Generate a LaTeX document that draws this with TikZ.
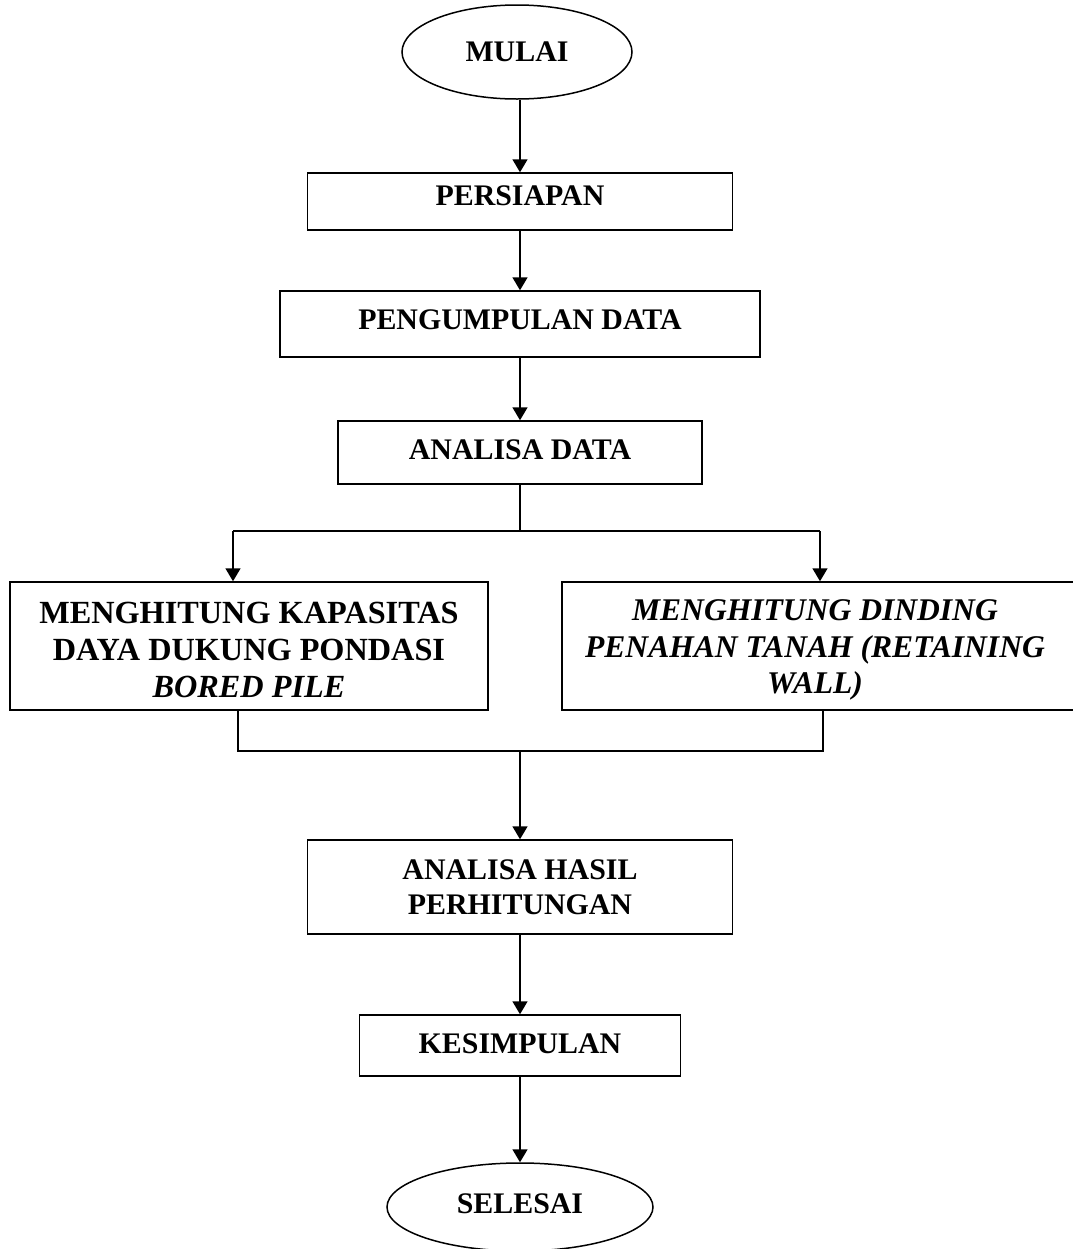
\documentclass[tikz,border=0pt]{standalone}
\usepackage{fontspec}
\setmainfont{Liberation Serif}
\usetikzlibrary{arrows.meta,shapes.geometric}
\tikzset{
  box/.style={draw, line width=1.5bp, inner sep=0pt, font=\bfseries\fontsize{30}{35}\selectfont, align=center},
  bigbox/.style={draw, line width=1.5bp, inner sep=0pt},
  bigtext/.style={inner sep=0pt, font=\bfseries\fontsize{32.4}{37}\selectfont, align=center},
  oval/.style={draw, ellipse, line width=1.5bp, inner sep=0pt, font=\bfseries\fontsize{30}{35}\selectfont},
  conn/.style={line width=1.7bp},
  arr/.style={conn, -{Triangle[width=15bp,length=13bp]}},
  raised/.style={text height=#1, text depth=0bp},
}
\begin{document}
\begin{tikzpicture}[x=1bp,y=-1bp]
\clip (0,0) rectangle (1073,1249);
\fill[white] (0,0) rectangle (1073,1249);

\node[oval, minimum width=230bp, minimum height=94bp] (mulai) at (517,52) {MULAI};
\node[box, minimum width=425bp, minimum height=57bp, text height=20bp, text depth=12bp] (persiapan) at (520,201.5) {PERSIAPAN};
\node[box, minimum width=480bp, minimum height=66bp, text height=20bp, text depth=10bp] (kumpul) at (520,324) {PENGUMPULAN DATA};
\node[box, minimum width=364bp, minimum height=63bp, text height=20bp, text depth=6bp] (analisa) at (520,452.5) {ANALISA DATA};

\node[bigbox, minimum width=478bp, minimum height=128bp] (kap) at (249,646) {};
\node[bigtext] (kaptext) at (249,650) {MENGHITUNG KAPASITAS\\DAYA DUKUNG PONDASI\\\textit{BORED PILE}};
\node[bigbox, minimum width=523bp, minimum height=128bp] (wall) at (823.5,646) {};
\node[bigtext, font=\bfseries\itshape\fontsize{31.7}{37}\selectfont] (walltext) at (815,650) {MENGHITUNG DINDING\\PENAHAN TANAH (RETAINING\\WALL)};

\node[box, minimum width=425bp, minimum height=94bp] (hasil) at (520,887) {ANALISA HASIL\\PERHITUNGAN};
\node[box, minimum width=321bp, minimum height=61bp, text height=20bp, text depth=4bp] (simpul) at (520,1045.5) {KESIMPULAN};
\node[oval, minimum width=266bp, minimum height=88bp, text height=20bp, text depth=8bp] (selesai) at (520,1207) {SELESAI};

\draw[arr] (mulai.south -| persiapan.north) -- (persiapan.north);
\draw[arr] (persiapan) -- (kumpul);
\draw[arr] (kumpul) -- (analisa);

\coordinate (split) at (520,531);
\coordinate (sl) at (233,531);
\coordinate (sr) at (820,531);
\draw[conn] (analisa.south) -- (split);
\draw[conn] (sl) -- (sr);
\draw[arr] (sl) -- (sl |- kap.north);
\draw[arr] (sr) -- (sr |- wall.north);

\coordinate (ml) at (238,751);
\coordinate (mr) at (823,751);
\coordinate (mc) at (520,751);
\draw[conn] (ml |- kap.south) -- (ml) -- (mr) -- (mr |- wall.south);
\draw[arr] (mc) -- (hasil.north);

\draw[arr] (hasil) -- (simpul);
\draw[arr] (simpul) -- (selesai);
\end{tikzpicture}
\end{document}
